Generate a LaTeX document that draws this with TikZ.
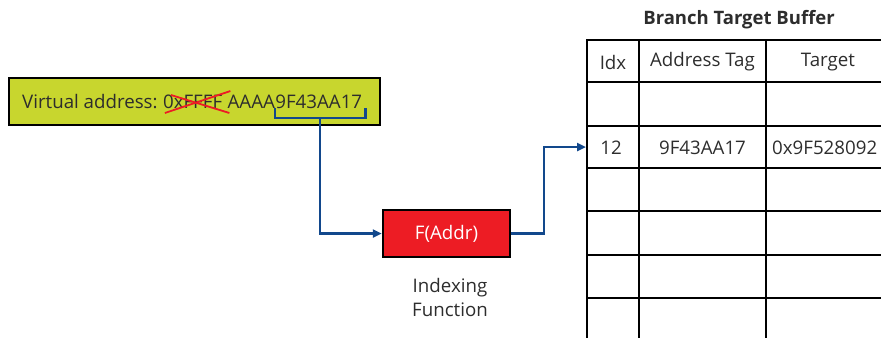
\documentclass[tikz,border=0pt]{standalone}
\usepackage{fontspec}
\setmainfont{Open Sans}
\usetikzlibrary{arrows.meta,calc}
\definecolor{lime}{RGB}{200,214,46}
\definecolor{fred}{RGB}{237,28,36}
\definecolor{lblue}{RGB}{18,72,140}
\definecolor{txtgray}{RGB}{45,45,45}
\begin{document}
\begin{tikzpicture}[x=1pt,y=-1pt,
  txt/.style={inner sep=0pt,text=txtgray,font=\fontsize{18.7}{22}\selectfont},
  boxln/.style={draw=black,line width=2.5pt},
  grid/.style={draw=black,line width=2.5pt},
  conn/.style={draw=lblue,line width=2.4pt},
  tip/.style={-{Triangle[length=9pt,width=8pt]}}]
\useasboundingbox (0,0) rectangle (881,338);
% virtual address box
\node[boxln,fill=lime,minimum width=371pt,minimum height=47pt,inner sep=0pt] (vabox) at (194.5,101.5) {};
\node[txt,anchor=base west] (va) at (22,108) {Virtual address:\kern0.27em};
\node[txt,anchor=base west] (ff) at (va.base east) {0xFFFF};
\node[txt,anchor=base west] (aa) at (ff.base east) {\kern0.27em AAAA};
\node[txt,anchor=base west] (tag) at (aa.base east) {9F43AA17};
% red cross
\draw[fred,line width=1.8pt] ($(ff.base west)+(2,5)$) -- ($(ff.base east)+(8,-17)$);
\draw[fred,line width=1.8pt] ($(ff.base west)+(8,-13)$) -- ($(ff.base east)+(7,5)$);
% bracket
\draw[conn] ($(tag.base west)+(0,0)$) -- ($(tag.base west)+(0,10)$) -- ($(tag.base east)+(3,10)$) -- ($(tag.base east)+(3,0)$);
\coordinate (brk) at ($($(tag.base west)+(0,10)$)!0.5!($(tag.base east)+(3,10)$)$);
% indexing function
\node[boxln,fill=fred,minimum width=127pt,minimum height=47pt,inner sep=0pt,text=white,font=\fontsize{18.7}{22}\selectfont] (fbox) at (446.5,233.5) {F(Addr)};
\node[txt,align=center,font=\fontsize{18.7}{24}\selectfont] (ifn) at (450,297) {Indexing\\Function};
% table
\node[txt,font=\bfseries\fontsize{18.5}{22}\selectfont] (btb) at (739,20) {Branch Target Buffer};
\draw[grid] (881,40) -- (587,40) -- (587,338);
\draw[grid] (639,40) -- (639,338);
\draw[grid] (766,40) -- (766,338);
\foreach \y in {82,126,168,211,255,298} {\draw[grid] (587,\y) -- (881,\y);}
\node[txt] (hidx) at (613,62) {Idx};
\node[txt] (htag) at (702.5,62) {Address Tag};
\node[txt] (htgt) at (828,62) {Target};
\node[txt] (c12) at (611,148) {12};
\node[txt] (ctag) at (702.5,148) {9F43AA17};
\node[txt,anchor=west] (ctgt) at (772,148) {0x9F528092};
\coordinate (row12) at (586,147);
% connectors
\draw[conn,tip] (brk) |- (fbox.west);
\draw[conn,tip] (fbox.east) -- ++(33,0) |- (row12);
\end{tikzpicture}
\end{document}
